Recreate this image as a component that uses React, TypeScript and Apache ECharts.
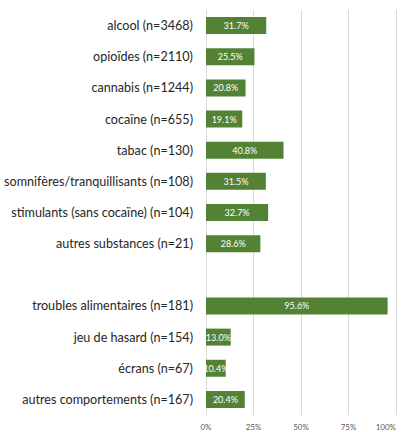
import React, { useEffect, useRef } from "react";
import * as echarts from "echarts";

const categories = [
  "alcool (n=3468)",
  "opioïdes (n=2110)",
  "cannabis (n=1244)",
  "cocaïne (n=655)",
  "tabac (n=130)",
  "somnifères/tranquillisants (n=108)",
  "stimulants (sans cocaïne) (n=104)",
  "autres substances (n=21)",
  "",
  "troubles alimentaires (n=181)",
  "jeu de hasard (n=154)",
  "écrans (n=67)",
  "autres comportements (n=167)",
];

const values: (number | null)[] = [31.7, 25.5, 20.8, 19.1, 40.8, 31.5, 32.7, 28.6, null, 95.6, 13.0, 10.4, 20.4];

const xTicks = [0, 25, 50, 75, 100];

export default function App() {
  const ref = useRef<HTMLDivElement>(null);
  useEffect(() => {
    if (!ref.current) return;
    const chart = echarts.init(ref.current, undefined, { renderer: "svg" });
    chart.setOption({
      animation: false,
      backgroundColor: "#ffffff",
      grid: { left: 206, right: 6, top: 10, bottom: 17, containLabel: false, outerBoundsMode: "none" },
      xAxis: {
        type: "value",
        min: xTicks[0],
        max: xTicks[xTicks.length - 1],
        interval: 25,
        axisLine: { show: false },
        axisTick: { show: false },
        splitLine: { show: true, lineStyle: { color: "#d9d9d9", width: 1 } },
        axisLabel: {
          formatter: "{value}%",
          fontSize: 8,
          color: "#595959",
          fontFamily: "Lato",
          margin: 8,
          alignMaxLabel: "right",
        },
      },
      yAxis: {
        type: "category",
        inverse: true,
        data: categories,
        axisLine: { show: false },
        axisTick: { show: false },
        axisLabel: {
          fontSize: 12.6,
          color: "#262626",
          fontFamily: "Lato",
          margin: 13,
        },
      },
      series: [
        {
          type: "bar",
          data: values,
          barWidth: 17,
          itemStyle: { color: "#548235" },
          label: {
            show: true,
            position: "inside",
            color: "#ffffff",
            fontSize: 9,
            fontFamily: "Lato",
            formatter: (p: any) => (p.value == null ? "" : Number(p.value).toFixed(1) + "%"),
          },
        },
      ],
    });
    return () => chart.dispose();
  }, []);
  return (
    <div
      ref={ref}
      style={{ position: "fixed", left: 0, top: 0, width: 402, height: 432 }}
    />
  );
}
